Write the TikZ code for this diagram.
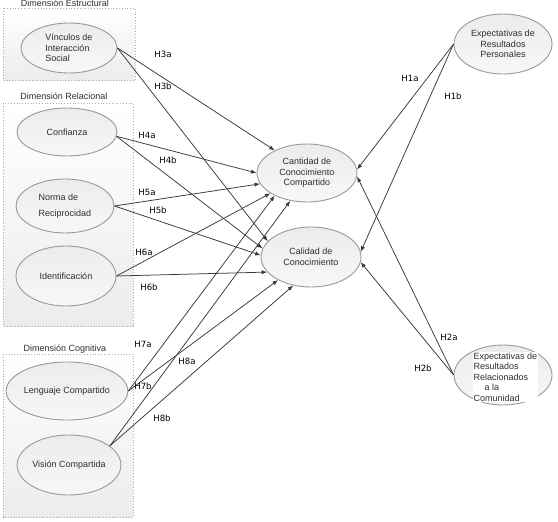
\documentclass[tikz,border=0pt]{standalone}
\usepackage{fontspec}
\setmainfont{Liberation Sans}
\newfontfamily\hypfont{DejaVu Sans}
\usetikzlibrary{arrows.meta,shapes.geometric}

\definecolor{MLine}{gray}{0.22}
\definecolor{MEdge}{gray}{0.60}
\definecolor{MText}{gray}{0.18}

\tikzset{
  constructo/.style={ellipse, draw=MEdge, line width=0.9pt, top color=gray!15, bottom color=gray!6,
    minimum width=100pt, minimum height=58pt, inner sep=0pt, align=center, text=MText,
    font=\fontsize{9}{10.5}\selectfont},
  dimbox/.style={draw=gray!65, dotted, line width=0.8pt, top color=white, bottom color=gray!15},
  dimtitle/.style={text=MText, font=\fontsize{9}{10.5}\selectfont, inner sep=0pt},
  hyp/.style={font=\hypfont\fontsize{8.6}{10}\selectfont, inner sep=0pt},
  rel/.style={MLine, line width=0.75pt, -{Latex[length=5.5pt,width=4.2pt]}},
}

\begin{document}
\begin{tikzpicture}[x=1pt, y=-1pt]
  \useasboundingbox (0,0) rectangle (558,522);

  % ---- dimension boxes ----
  \draw[dimbox] (3,8) rectangle (135,80);
  \draw[dimbox] (3,103) rectangle (133,326);
  \draw[dimbox] (3,354) rectangle (133,517);

  \node[dimtitle] (tEst) at (65,3) {Dimensión Estructural};
  \node[dimtitle] (tRel) at (64,96) {Dimensión Relacional};
  \node[dimtitle] (tCog) at (65,349) {Dimensión Cognitiva};

  % ---- left constructs ----
  \node[constructo, minimum width=96pt, minimum height=50pt, align=left] (vin) at (69,48) {Vínculos de\\Interacción\\Social};
  \node[constructo, minimum height=48pt] (con) at (67,132) {Confianza};
  \node[constructo, minimum width=98pt, minimum height=54pt, align=left] (nor) at (65,206) {Norma de\\[5pt]Reciprocidad};
  \node[constructo, minimum height=60pt] (ide) at (66,276) {Identificación};
  \node[constructo] (len) at (67,391) {Lenguaje Compartido};
  \node[constructo, minimum width=96pt, minimum height=60pt] (vis) at (69,465) {Visión Compartida};

  % ---- middle constructs ----
  \node[constructo] (cant) at (307,173) {Cantidad de\\Conocimiento\\Compartido};
  \node[constructo, minimum height=60pt] (cal) at (311,257) {Calidad de\\Conocimiento};

  % ---- right constructs ----
  \node[constructo, minimum width=98pt, minimum height=60pt] (per) at (503,44) {Expectativas de\\Resultados\\Personales};
  \node[constructo, minimum width=98pt, minimum height=60pt] (com) at (503,375) {};
  \node[anchor=west, align=left, fill=white, inner sep=0.5pt, text=MText,
    font=\fontsize{9}{10.5}\selectfont] (comtext) at (473,377)
    {Expectativas de\\Resultados\\Relacionados\\\hspace*{11pt}a la\\Comunidad};

  % ---- hypotheses ----
  \draw[rel] (vin.east) -- (cant.145);
  \draw[rel] (vin.east) -- (cal.160);
  \draw[rel] (con.355) -- (cant.180);
  \draw[rel] (con.355) -- (cal.170);
  \draw[rel] (nor.east) -- (cant.193);
  \draw[rel] (nor.east) -- (cal.178);
  \draw[rel] (ide.east) -- (cant.209);
  \draw[rel] (ide.east) -- (cal.199);
  \draw[rel] (len.east) -- (cant.215);
  \draw[rel] (len.east) -- (cal.215);
  \draw[rel] (vis.25) -- (cant.239);
  \draw[rel] (vis.25) -- (cal.238);
  \draw[rel] (per.west) -- (cant.4);
  \draw[rel] (per.west) -- (cal.6);
  \draw[rel] (com.west) -- (cant.356);
  \draw[rel] (com.west) -- (cal.354);

  % ---- labels ----
  \node[hyp] (h3a) at (163,54) {H3a};
  \node[hyp] (h3b) at (163,86) {H3b};
  \node[hyp] (h4a) at (147,135) {H4a};
  \node[hyp] (h4b) at (168,160) {H4b};
  \node[hyp] (h5a) at (147,192) {H5a};
  \node[hyp] (h5b) at (158,210) {H5b};
  \node[hyp] (h6a) at (144,252) {H6a};
  \node[hyp] (h6b) at (149,287) {H6b};
  \node[hyp] (h7a) at (143,344) {H7a};
  \node[hyp] (h7b) at (143,386) {H7b};
  \node[hyp] (h8a) at (187,361) {H8a};
  \node[hyp] (h8b) at (162,418) {H8b};
  \node[hyp] (h1a) at (410,78) {H1a};
  \node[hyp] (h1b) at (453,96) {H1b};
  \node[hyp] (h2a) at (449,337) {H2a};
  \node[hyp] (h2b) at (423,368) {H2b};

\end{tikzpicture}
\end{document}
